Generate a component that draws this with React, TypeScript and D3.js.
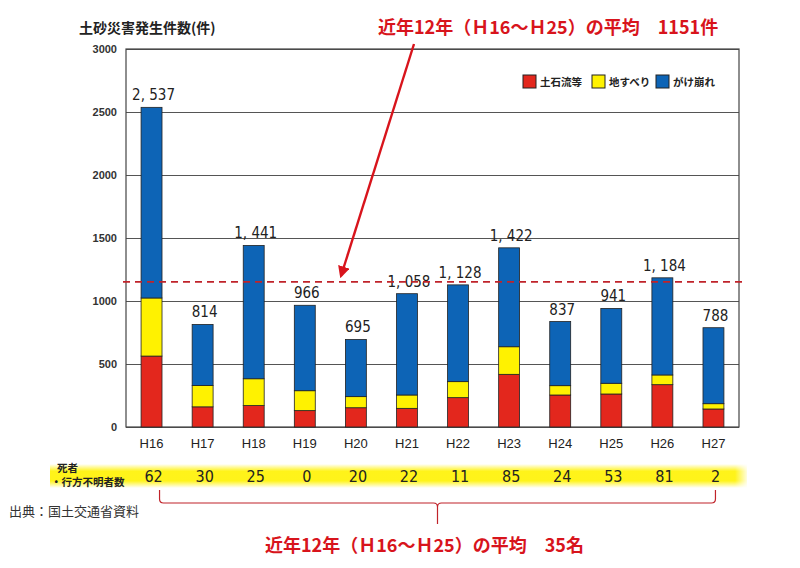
import { useRef, useEffect } from 'react';
import * as d3 from 'd3';

const years = ['H16', 'H17', 'H18', 'H19', 'H20', 'H21', 'H22', 'H23', 'H24', 'H25', 'H26', 'H27'];
const debrisFlow = [563, 160, 170, 130, 153, 148, 233, 418, 254, 262, 336, 143];
const landslide = [461, 170, 213, 158, 88, 106, 127, 219, 74, 85, 77, 42];
const slopeFailure = [1513, 484, 1058, 678, 454, 804, 768, 785, 509, 594, 771, 603];
const totals = [2537, 814, 1441, 966, 695, 1058, 1128, 1422, 837, 941, 1184, 788];
const casualties = [62, 30, 25, 0, 20, 22, 11, 85, 24, 53, 81, 2];
const average = 1151;
const yTicks = [0, 500, 1000, 1500, 2000, 2500, 3000];

const seriesNames = ['土石流等', '地すべり', 'がけ崩れ'];
const seriesColors = ['#e3271d', '#fff200', '#0d64b6'];

const JP = '"Noto Sans CJK JP", sans-serif';
const NARROW = '"DejaVu Sans Condensed", "Liberation Sans Narrow", sans-serif';
const RED = '#d8141c';

export default function App() {
  const svgRef = useRef<SVGSVGElement>(null);

  useEffect(() => {
    if (!svgRef.current) return;
    const svg = d3.select(svgRef.current);
    svg.selectAll('*').remove();

    const width = 800;
    const height = 568;
    const left = 126, right = 739, top = 49, bottom = 427;

    svg.attr('viewBox', `0 0 ${width} ${height}`);
    svg.append('rect').attr('width', width).attr('height', height).attr('fill', '#fff');

    const x = d3.scaleBand<string>().domain(years).range([left, right]).paddingInner(0.59).paddingOuter(0.295);
    const y = d3.scaleLinear().domain([0, 3000]).range([bottom, top]);

    const defs = svg.append('defs');
    const grad = defs.append('linearGradient').attr('id', 'glow').attr('x1', 0).attr('y1', 0).attr('x2', 0).attr('y2', 1);
    grad.append('stop').attr('offset', '0%').attr('stop-color', '#fff200').attr('stop-opacity', 0);
    grad.append('stop').attr('offset', '30%').attr('stop-color', '#fff200').attr('stop-opacity', 0.9);
    grad.append('stop').attr('offset', '70%').attr('stop-color', '#fff200').attr('stop-opacity', 0.9);
    grad.append('stop').attr('offset', '100%').attr('stop-color', '#fff200').attr('stop-opacity', 0);
    const hgrad = defs.append('linearGradient').attr('id', 'fadeR').attr('x1', 0).attr('y1', 0).attr('x2', 1).attr('y2', 0);
    hgrad.append('stop').attr('offset', '0%').attr('stop-color', '#fff').attr('stop-opacity', 0);
    hgrad.append('stop').attr('offset', '100%').attr('stop-color', '#fff').attr('stop-opacity', 1);
    defs.append('marker')
      .attr('id', 'arrow').attr('viewBox', '0 0 10 10').attr('refX', 8).attr('refY', 5)
      .attr('markerWidth', 5).attr('markerHeight', 5).attr('orient', 'auto')
      .append('path').attr('d', 'M0,0 L10,5 L0,10 z').attr('fill', RED);

    const g = svg.append('g');

    // Grid
    g.append('g')
      .attr('transform', `translate(${left},0)`)
      .call(d3.axisLeft(y).tickValues(yTicks).tickSize(-(right - left)).tickFormat(() => ''))
      .call((s) => { s.selectAll('line').attr('stroke', '#555').attr('stroke-width', 1); s.select('.domain').remove(); });

    // Plot frame
    g.append('rect')
      .attr('x', left).attr('y', top).attr('width', right - left).attr('height', bottom - top)
      .attr('fill', 'none').attr('stroke', '#444').attr('stroke-width', 1.2);

    // Stacked bars
    const rows = years.map((yr, i) => ({ yr, v: [debrisFlow[i], landslide[i], slopeFailure[i]] }));
    rows.forEach((r) => {
      let base = 0;
      r.v.forEach((val, k) => {
        g.append('rect')
          .attr('x', x(r.yr)!)
          .attr('y', y(base + val))
          .attr('width', x.bandwidth())
          .attr('height', y(base) - y(base + val))
          .attr('fill', seriesColors[k])
          .attr('stroke', '#222').attr('stroke-width', 0.8);
        base += val;
      });
    });

    // Total labels
    const fmt = d3.format(',');
    g.selectAll(null).data(years).join('text')
      .attr('x', (d) => x(d)! + x.bandwidth() / 2 + 2)
      .attr('y', (_d, i) => y(totals[i]) - 7)
      .attr('text-anchor', 'middle')
      .attr('font-family', NARROW).attr('font-size', 15).attr('fill', '#222')
      .text((_d, i) => fmt(totals[i]).replace(',', ', '));

    // Y axis labels
    g.append('g')
      .attr('transform', `translate(${left},0)`)
      .call(d3.axisLeft(y).tickValues(yTicks).tickSize(0).tickPadding(9).tickFormat(d3.format('d')))
      .call((s) => {
        s.select('.domain').remove();
        s.selectAll('text').attr('font-family', '"Liberation Sans", Arial, sans-serif').attr('font-size', 11)
          .attr('font-weight', 'bold').attr('fill', '#333');
      });

    // X axis labels
    g.append('g')
      .attr('transform', `translate(0,${bottom})`)
      .call(d3.axisBottom(x).tickSize(0).tickPadding(12))
      .call((s) => {
        s.select('.domain').remove();
        s.selectAll('text').attr('font-family', '"Liberation Sans", Arial, sans-serif').attr('font-size', 13).attr('fill', '#222');
      });

    // Average line
    g.append('line')
      .attr('x1', left - 3).attr('x2', right + 6)
      .attr('y1', y(average)).attr('y2', y(average))
      .attr('stroke', '#c0232a').attr('stroke-width', 1.8).attr('stroke-dasharray', '7,5');

    // Y axis title
    svg.append('text')
      .attr('x', 79).attr('y', 33)
      .attr('font-family', JP).attr('font-size', 14).attr('font-weight', 'bold').attr('fill', '#222')
      .text('土砂災害発生件数(件)');

    // Average callout
    svg.append('text')
      .attr('x', 378).attr('y', 34)
      .attr('font-family', JP).attr('font-size', 18).attr('font-weight', 'bold').attr('fill', RED)
      .text('近年12年（Ｈ16～Ｈ25）の平均　1151件');
    svg.append('line')
      .attr('x1', 414).attr('y1', 44).attr('x2', 341).attr('y2', 276)
      .attr('stroke', RED).attr('stroke-width', 2.4).attr('marker-end', 'url(#arrow)');

    // Legend
    const lg = svg.append('g').attr('transform', 'translate(523,75)');
    const legendX = [0, 69, 133];
    seriesNames.forEach((name, i) => {
      lg.append('rect').attr('x', legendX[i]).attr('y', 0).attr('width', 13).attr('height', 13)
        .attr('fill', seriesColors[i]).attr('stroke', '#222').attr('stroke-width', 1);
      lg.append('text').attr('x', legendX[i] + 17).attr('y', 11)
        .attr('font-family', JP).attr('font-size', 10.5).attr('font-weight', 'bold').attr('fill', '#222')
        .text(name);
    });

    // Casualty row
    svg.append('rect')
      .attr('x', 50).attr('y', 464).attr('width', 697).attr('height', 24)
      .attr('fill', 'url(#glow)');
    svg.append('rect')
      .attr('x', 735).attr('y', 460).attr('width', 14).attr('height', 32)
      .attr('fill', 'url(#fadeR)');
    svg.append('text')
      .attr('x', 57).attr('y', 472)
      .attr('font-family', JP).attr('font-size', 10.5).attr('font-weight', 'bold').attr('fill', '#222')
      .text('死者');
    svg.append('text')
      .attr('x', 51).attr('y', 486)
      .attr('font-family', JP).attr('font-size', 10.5).attr('font-weight', 'bold').attr('fill', '#222')
      .text('・行方不明者数');
    svg.selectAll(null).data(years).join('text')
      .attr('x', (d) => x(d)! + x.bandwidth() / 2 + 2)
      .attr('y', 482)
      .attr('text-anchor', 'middle')
      .attr('font-family', NARROW).attr('font-size', 16).attr('fill', '#222')
      .text((_d, i) => String(casualties[i]));

    // Brace under the casualty row
    const bl = x(years[0])! + x.bandwidth() / 2 + 8;
    const br = x(years[years.length - 1])! + x.bandwidth() / 2 + 2;
    const bm = (bl + br) / 2;
    const by = 503;
    svg.append('path')
      .attr('d', `M${bl},490 L${bl},${by - 4} Q${bl},${by} ${bl + 4},${by} L${bm - 4},${by} Q${bm},${by} ${bm},${by + 4} L${bm},524 M${bm},${by + 4} Q${bm},${by} ${bm + 4},${by} L${br - 4},${by} Q${br},${by} ${br},${by - 4} L${br},490`)
      .attr('fill', 'none').attr('stroke', '#c0232a').attr('stroke-width', 1.2);

    svg.append('text')
      .attr('x', 9).attr('y', 516)
      .attr('font-family', JP).attr('font-size', 13).attr('fill', '#333')
      .text('出典：国土交通省資料');

    svg.append('text')
      .attr('x', 265).attr('y', 552)
      .attr('font-family', JP).attr('font-size', 18).attr('font-weight', 'bold').attr('fill', RED)
      .text('近年12年（Ｈ16～Ｈ25）の平均　35名');
  }, []);

  return (
    <svg ref={svgRef} width={800} height={568} style={{ position: 'absolute', left: 0, top: 0, display: 'block' }} />
  );
}
